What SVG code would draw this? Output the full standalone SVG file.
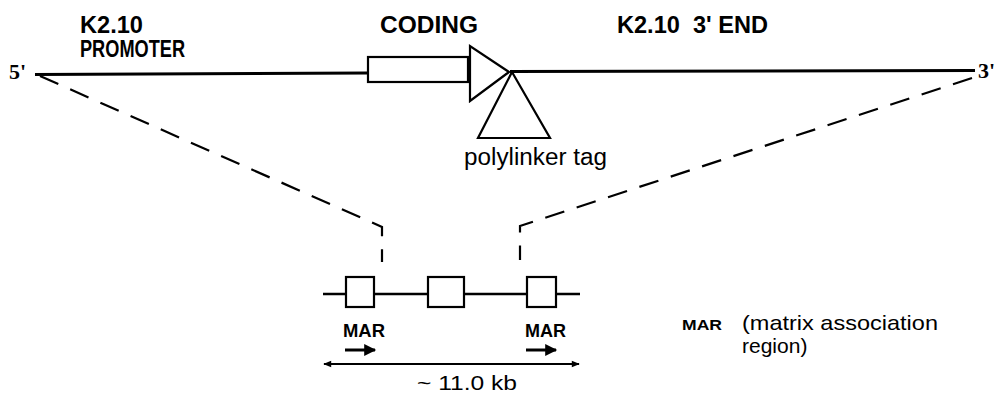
<svg xmlns="http://www.w3.org/2000/svg" width="1002" height="397" viewBox="0 0 1002 397">
<style>
.b{font-family:"Liberation Sans",Arial,sans-serif;font-weight:bold;fill:#000}
.r{font-family:"Liberation Sans",Arial,sans-serif;fill:#000}
.t{font-family:"Liberation Serif","Times New Roman",serif;font-weight:bold;fill:#000}
.ln{stroke:#000;fill:none}
.dash{stroke:#000;fill:none;stroke-width:2.2;stroke-dasharray:20 13}
.box{fill:#fff;stroke:#000;stroke-width:2.2}
</style>
<defs>
<marker id="ah" viewBox="0 0 10 10" refX="9" refY="5" markerWidth="10" markerHeight="4" markerUnits="strokeWidth" orient="auto-start-reverse"><path d="M0,1 L10,5 L0,9 Z" fill="#000"/></marker>
<marker id="ah2" viewBox="0 0 10 10" refX="9" refY="5" markerWidth="5" markerHeight="4" markerUnits="strokeWidth" orient="auto"><path d="M0,0 L10,5 L0,10 Z" fill="#000"/></marker>
</defs>
<g id="connectors">
<path class="dash" d="M40,76 L382,227 L382,262"/>
<path class="dash" d="M972,78 L520,226 L520,260"/>
</g>
<g id="main-line">
<path class="ln" stroke-width="3" d="M35,74.5 L368,73"/>
<path class="ln" stroke-width="3" d="M510,71.5 L975,70.5"/>
<text class="t" x="9" y="79" font-size="22">5'</text>
<text class="t" x="978" y="78" font-size="22">3'</text>
</g>
<g id="promoter">
<text class="b" x="80" y="33" font-size="23" textLength="63" lengthAdjust="spacingAndGlyphs">K2.10</text>
<text class="b" x="80" y="57" font-size="23" textLength="105" lengthAdjust="spacingAndGlyphs">PROMOTER</text>
</g>
<g id="coding">
<rect class="box" x="368" y="57" width="100" height="25"/>
<path class="box" d="M470,46 L470,101 L509,72 Z"/>
<text class="b" x="380" y="33" font-size="23" textLength="98" lengthAdjust="spacingAndGlyphs">CODING</text>
</g>
<g id="three-end">
<text class="b" x="617" y="33" font-size="23" textLength="151" lengthAdjust="spacingAndGlyphs" xml:space="preserve">K2.10  3' END</text>
</g>
<g id="polylinker">
<path class="ln" stroke-width="2.2" d="M512,72 L478,138 L550,138 Z"/>
<text class="r" x="464" y="165" font-size="23" textLength="143" lengthAdjust="spacingAndGlyphs">polylinker tag</text>
</g>
<g id="mar-construct">
<path class="ln" stroke-width="2.5" d="M323,294 L580,294"/>
<rect class="box" x="346" y="277" width="28" height="30"/>
<rect class="box" x="428" y="277" width="36" height="30"/>
<rect class="box" x="527" y="277" width="29" height="30"/>
<text class="b" x="343" y="337" font-size="18" textLength="42" lengthAdjust="spacingAndGlyphs">MAR</text>
<text class="b" x="525" y="337" font-size="18" textLength="41" lengthAdjust="spacingAndGlyphs">MAR</text>
<path class="ln" stroke-width="3" marker-end="url(#ah2)" d="M345,350 L375,350"/>
<path class="ln" stroke-width="3" marker-end="url(#ah2)" d="M526,350 L556,350"/>
</g>
<g id="size">
<path class="ln" stroke-width="2" marker-start="url(#ah)" marker-end="url(#ah)" d="M324,364 L579,364"/>
<text class="r" x="417" y="390" font-size="21" textLength="100" lengthAdjust="spacingAndGlyphs">~ 11.0 kb</text>
</g>
<g id="legend">
<text class="b" x="682" y="330" font-size="15" textLength="40" lengthAdjust="spacingAndGlyphs">MAR</text>
<text class="r" x="742" y="330" font-size="21" textLength="196" lengthAdjust="spacingAndGlyphs">(matrix association</text>
<text class="r" x="742" y="353" font-size="21">region)</text>
</g>
</svg>
